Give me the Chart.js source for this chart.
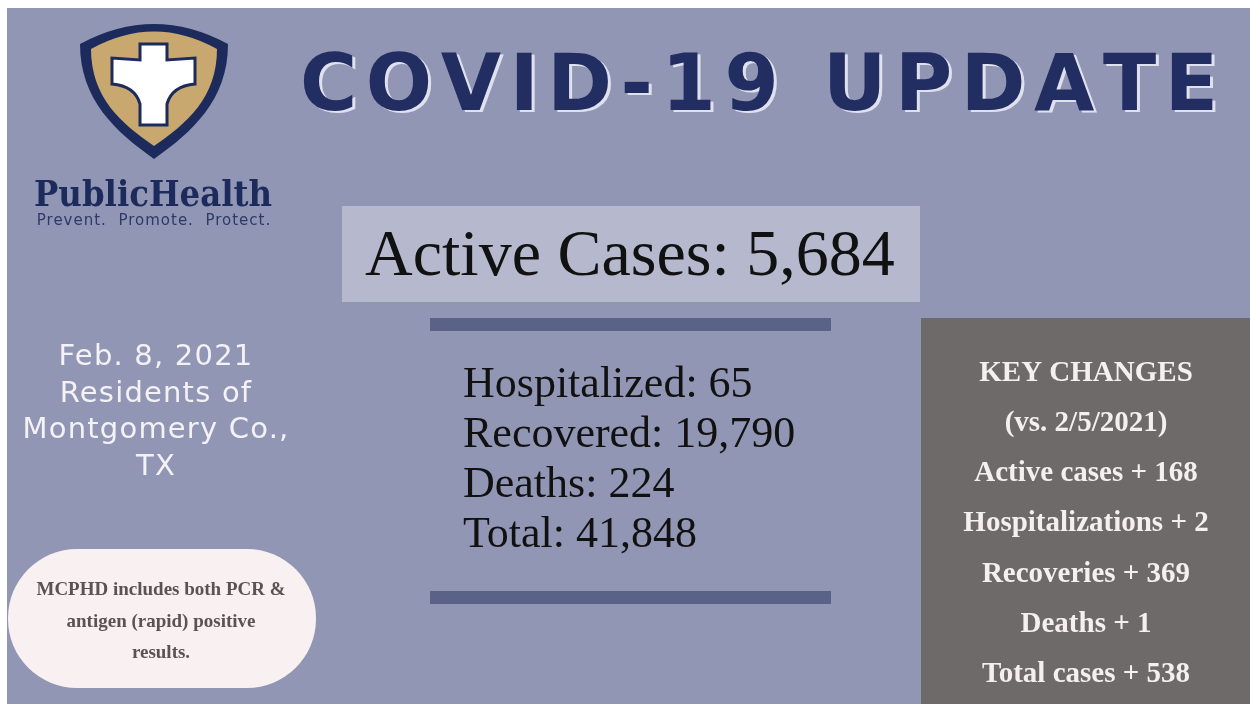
<!DOCTYPE html>
<html>
<head>
<meta charset="utf-8">
<script src="https://cdn.jsdelivr.net/npm/chart.js@4"></script>
<style>
  html, body { margin: 0; padding: 0; background: #ffffff; }
  canvas { display: block; }
</style>
</head>
<body>
<canvas id="myChart" width="1250" height="704"></canvas>
<script>
// numbers for the update
const activeCases = 5684;
const statLabels = ['Hospitalized', 'Recovered', 'Deaths', 'Total'];
const statValues = [65, 19790, 224, 41848];
const changeLabels = ['Active cases', 'Hospitalizations', 'Recoveries', 'Deaths', 'Total cases'];
const changeValues = [168, 2, 369, 1, 538];
const compareDate = '2/5/2021';
const placeLines = ['Feb. 8, 2021', 'Residents of', 'Montgomery Co.,', 'TX'];
const noteLines = ['MCPHD includes both PCR &', 'antigen (rapid) positive', 'results.'];

const fmt = n => n.toLocaleString('en-US');

function text(ctx, str, x, y, font, color, align, maxW, spacing) {
  ctx.font = font;
  ctx.fillStyle = color;
  ctx.textAlign = align || 'left';
  ctx.textBaseline = 'alphabetic';
  ctx.letterSpacing = spacing || '0px';
  if (maxW) ctx.fillText(str, x, y, maxW);
  else ctx.fillText(str, x, y);
  ctx.letterSpacing = '0px';
}

// spaced out title, fills a given width
function spacedText(ctx, str, x, y, width, font, color) {
  ctx.font = font;
  ctx.textAlign = 'left';
  ctx.fillStyle = color;
  const chars = str.split('');
  const widths = chars.map(c => ctx.measureText(c).width);
  const total = widths.reduce((a, b) => a + b, 0);
  const gap = (width - total) / (chars.length - 1);
  let cx = x;
  chars.forEach((c, i) => {
    ctx.fillText(c, cx, y);
    cx += widths[i] + gap;
  });
}

function drawLogo(ctx) {
  // shield
  ctx.beginPath();
  ctx.moveTo(80, 44);
  ctx.quadraticCurveTo(154, 4, 228, 44);
  ctx.bezierCurveTo(228, 100, 192, 132, 154, 159);
  ctx.bezierCurveTo(116, 132, 80, 100, 80, 44);
  ctx.closePath();
  ctx.fillStyle = '#1d2b5c';
  ctx.fill();

  ctx.beginPath();
  ctx.moveTo(91, 49);
  ctx.quadraticCurveTo(154, 14, 217, 49);
  ctx.bezierCurveTo(217, 98, 186, 124, 154, 146);
  ctx.bezierCurveTo(122, 124, 91, 98, 91, 49);
  ctx.closePath();
  ctx.fillStyle = '#c9a870';
  ctx.fill();

  // cross
  ctx.beginPath();
  ctx.moveTo(140, 44);
  ctx.lineTo(167, 44);
  ctx.lineTo(167, 60);
  ctx.lineTo(195, 58);
  ctx.lineTo(195, 84);
  ctx.quadraticCurveTo(172, 86, 167, 104);
  ctx.lineTo(167, 125);
  ctx.lineTo(140, 125);
  ctx.lineTo(140, 104);
  ctx.quadraticCurveTo(135, 86, 112, 84);
  ctx.lineTo(112, 58);
  ctx.lineTo(140, 60);
  ctx.closePath();
  ctx.fillStyle = '#ffffff';
  ctx.fill();
  ctx.lineWidth = 3;
  ctx.strokeStyle = '#1d2b5c';
  ctx.stroke();

  text(ctx, 'PublicHealth', 153, 206, 'bold 35px "DejaVu Serif"', '#1d2b5c', 'center', 238);
  text(ctx, 'Prevent.  Promote.  Protect.', 154, 225, '15px "DejaVu Sans"', '#2c3a6a', 'center', 238, '1px');
}

const infographic = {
  id: 'infographic',
  beforeDraw(chart) {
    const ctx = chart.ctx;
    ctx.save();

    // page
    ctx.fillStyle = '#ffffff';
    ctx.fillRect(0, 0, 1250, 704);
    ctx.fillStyle = '#9196b4';
    ctx.fillRect(7, 8, 1243, 696);

    drawLogo(ctx);

    // title with light shadow
    const title = 'COVID-19 UPDATE';
    const tFont = 'bold 78px "DejaVu Sans"';
    spacedText(ctx, title, 303, 112, 918, tFont, '#dfe2ee');
    spacedText(ctx, title, 300, 110, 918, tFont, '#222d62');

    // active cases box
    ctx.fillStyle = '#b6b9cd';
    ctx.fillRect(342, 206, 578, 96);
    text(ctx, 'Active Cases: ' + fmt(activeCases), 365, 275,
      '66px "Liberation Serif"', '#111111', 'left', 530);

    // divider bars
    ctx.fillStyle = '#5a6288';
    ctx.fillRect(430, 318, 401, 13);
    ctx.fillRect(430, 591, 401, 13);

    // stats
    statLabels.forEach((lab, i) => {
      text(ctx, lab + ': ' + fmt(statValues[i]), 463, 397 + i * 50,
        '44px "Liberation Serif"', '#111111', 'left');
    });

    // place / date
    placeLines.forEach((line, i) => {
      text(ctx, line, 156, 365 + i * 36.5, '29px "DejaVu Sans"', '#f4f2f6', 'center', 290, '1.2px');
    });

    // note pill
    ctx.beginPath();
    ctx.roundRect(8, 549, 308, 139, 69);
    ctx.fillStyle = '#f8f0f1';
    ctx.fill();
    noteLines.forEach((line, i) => {
      text(ctx, line, 161, 595 + i * 31.5, 'bold 19px "Liberation Serif"', '#5a5354', 'center');
    });

    // key changes panel
    ctx.fillStyle = '#6f6a6a';
    ctx.fillRect(921, 318, 329, 386);
    const kFont = 'bold 29px "Liberation Serif"';
    const kColor = '#f5efef';
    text(ctx, 'KEY CHANGES', 1086, 381, kFont, kColor, 'center');
    text(ctx, '(vs. ' + compareDate + ')', 1086, 431, kFont, kColor, 'center');
    changeLabels.forEach((lab, i) => {
      text(ctx, lab + ' + ' + fmt(changeValues[i]), 1086, 481 + i * 50.3, kFont, kColor, 'center');
    });

    ctx.restore();
  }
};

const config = {
  type: 'bar',
  data: { labels: [], datasets: [] },
  options: {
    responsive: false,
    animation: false,
    events: [],
    layout: { padding: 0 },
    plugins: {
      legend: { display: false },
      tooltip: { enabled: false }
    },
    scales: {
      x: { display: false },
      y: { display: false }
    }
  },
  plugins: [infographic]
};

const myChart = new Chart(document.getElementById('myChart'), config);
</script>
</body>
</html>
